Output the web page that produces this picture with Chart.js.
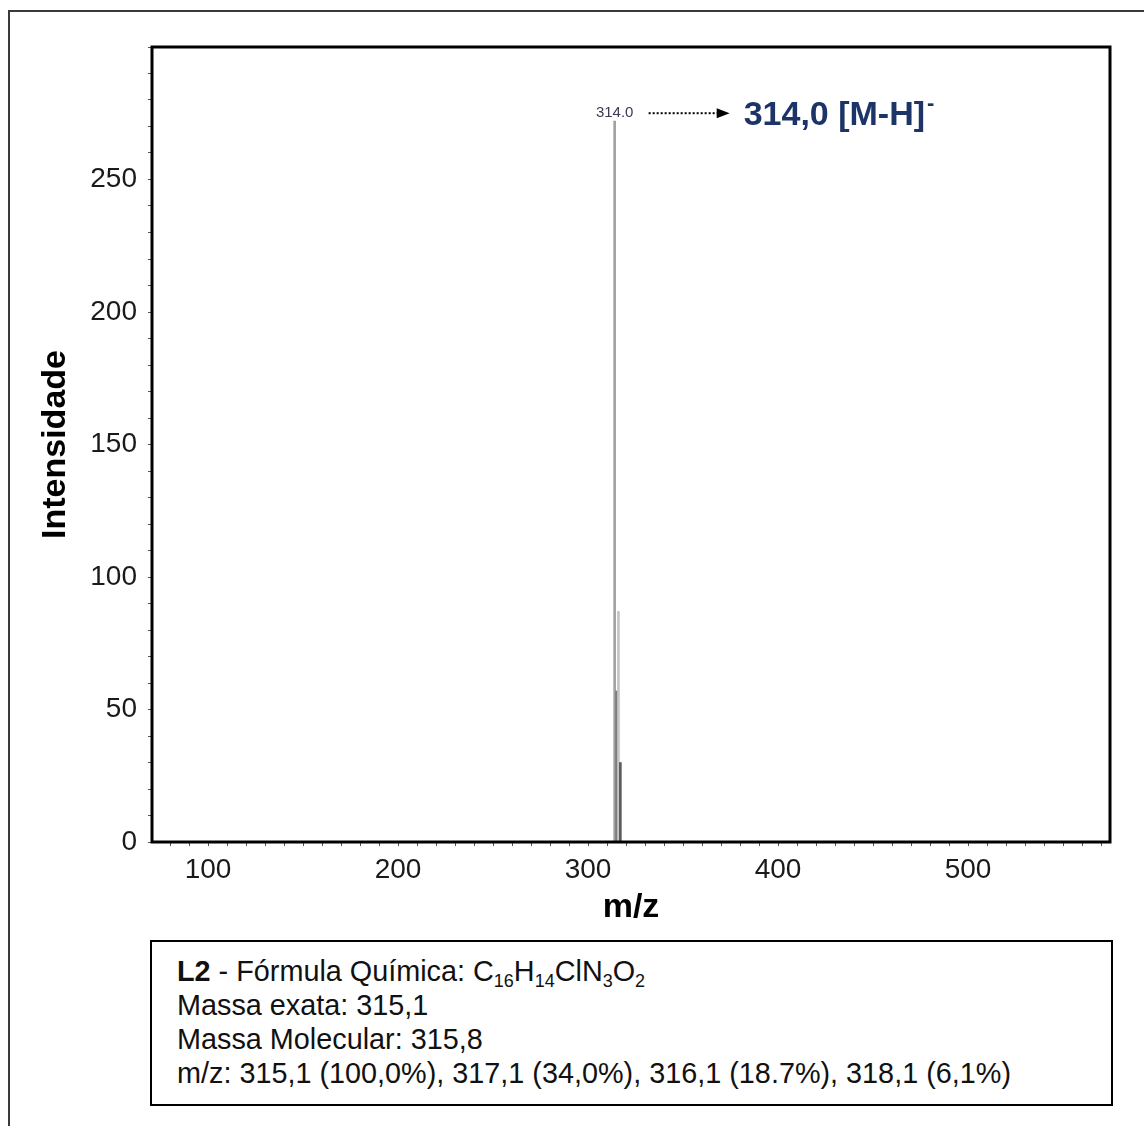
<!DOCTYPE html>
<html>
<head>
<meta charset="utf-8">
<script src="https://cdn.jsdelivr.net/npm/chart.js@4/dist/chart.umd.min.js"></script>
<style>
  body { margin: 0; background: #fff; font-family: 'Liberation Sans', Arial, sans-serif; }
  #frame { position: absolute; left: 8px; top: 10px; width: 1200px; height: 1200px;
           border-top: 2px solid #3a3a3a; border-left: 2px solid #3a3a3a; }
  #wrap { position: absolute; left: 0; top: 0; width: 1144px; height: 930px; }
  #info { position: absolute; left: 150px; top: 940px; width: 934px; height: 150px;
          border: 2px solid #000; padding: 12px 0 0 25px; font-size: 28.8px; line-height: 34px; color: #111; }
  #info sub { font-size: 18px; line-height: 0; vertical-align: -6px; }
</style>
</head>
<body>
<div id="frame"></div>
<div id="wrap"><canvas id="myChart"></canvas></div>
<div id="info">
  <b>L2</b> - Fórmula Química: C<sub>16</sub>H<sub>14</sub>ClN<sub>3</sub>O<sub>2</sub><br>
  Massa exata: 315,1<br>
  Massa Molecular: 315,8<br>
  m/z: 315,1 (100,0%), 317,1 (34,0%), 316,1 (18.7%), 318,1 (6,1%)
</div>
<script>
'use strict'

// spectrum peaks (m/z and intensity)
const peakMz = [314.0, 315.0, 316.0, 317.0];
const peakIntensity = [272, 57, 87, 30];
const peakColors = ['#a2a2a2', '#7c7c7c', '#c4c4c4', '#5c5c5c'];

// axis ranges and labelled ticks
const xMin = 70.5;
const xMax = 574.7;
const xLabels = [100, 200, 300, 400, 500];
const yMax = 300;
const yLabels = [0, 50, 100, 150, 200, 250];

// the base peak label
const baseLabel = '314.0';
const ionLabel = '314,0 [M-H]';

const fontName = "'Liberation Sans', Arial, sans-serif";

let points = [];
for (let i = 0; i < peakMz.length; i++) {
  points.push({x: peakMz[i], y: peakIntensity[i]});
}

// black box round the plot area
const boxPlugin = {
  id: 'plotBox',
  afterDraw(chart) {
    const ctx = chart.ctx;
    const a = chart.chartArea;
    ctx.save();
    ctx.strokeStyle = '#000';
    ctx.lineWidth = 3;
    ctx.strokeRect(a.left, a.top, a.right - a.left, a.bottom - a.top);
    ctx.restore();
  }
};

// small peak label, dotted arrow and ion name
const peakLabelPlugin = {
  id: 'peakLabel',
  afterDatasetsDraw(chart) {
    const ctx = chart.ctx;
    const x = chart.scales.x.getPixelForValue(peakMz[0]);
    const y = chart.scales.y.getPixelForValue(peakIntensity[0]);
    const ly = y - 8;
    ctx.save();
    ctx.textBaseline = 'middle';
    ctx.textAlign = 'center';
    ctx.fillStyle = '#3a3a55';
    ctx.font = '15px ' + fontName;
    ctx.fillText(baseLabel, x, ly);

    // dotted arrow
    ctx.strokeStyle = '#000';
    ctx.lineWidth = 2;
    ctx.setLineDash([2, 2]);
    ctx.beginPath();
    ctx.moveTo(x + 34, ly);
    ctx.lineTo(x + 104, ly);
    ctx.stroke();
    ctx.setLineDash([]);
    ctx.fillStyle = '#000';
    ctx.beginPath();
    ctx.moveTo(x + 102, ly - 5);
    ctx.lineTo(x + 115, ly);
    ctx.lineTo(x + 102, ly + 5);
    ctx.closePath();
    ctx.fill();

    ctx.textAlign = 'left';
    ctx.fillStyle = '#1d3468';
    ctx.font = 'bold 34px ' + fontName;
    ctx.fillText(ionLabel, x + 129, ly + 2);
    const w = ctx.measureText(ionLabel).width;
    ctx.font = 'bold 22px ' + fontName;
    ctx.fillText('-', x + 131 + w, ly - 9);
    ctx.restore();
  }
};

const ctx = document.getElementById('myChart').getContext('2d');

const myChart = new Chart(ctx, {
  type: 'bar',
  data: {
    datasets: [{
      label: 'Intensidade',
      data: points,
      backgroundColor: peakColors,
      borderWidth: 0,
      barThickness: 2
    }]
  },
  options: {
    responsive: true,
    maintainAspectRatio: false,
    animation: false,
    layout: { padding: { top: 47, right: 34, left: 0, bottom: 0 } },
    plugins: {
      legend: { display: false },
      tooltip: { enabled: false }
    },
    scales: {
      x: {
        type: 'linear',
        offset: false,
        min: xMin,
        max: xMax,
        afterFit(scale) { scale.height = 88; },
        border: { display: false },
        grid: { offset: false, drawOnChartArea: false, drawTicks: true, tickLength: 4, tickColor: '#555' },
        ticks: {
          stepSize: 10,
          autoSkip: false,
          includeBounds: false,
          maxRotation: 0,
          padding: 7,
          color: '#1a1a1a',
          font: { family: fontName, size: 28 },
          callback: (v) => xLabels.includes(v) ? String(v) : ''
        },
        title: {
          display: true,
          text: 'm/z',
          color: '#000',
          font: { family: fontName, size: 34, weight: 'bold' },
          padding: { top: 0, bottom: 2 }
        }
      },
      y: {
        min: 0,
        max: yMax,
        afterFit(scale) { scale.width = 152; },
        border: { display: false },
        grid: { drawOnChartArea: false, drawTicks: true, tickLength: 4, tickColor: '#555' },
        ticks: {
          stepSize: 10,
          autoSkip: false,
          padding: 11,
          color: '#1a1a1a',
          font: { family: fontName, size: 28 },
          callback: (v) => yLabels.includes(v) ? String(v) : ''
        },
        title: {
          display: true,
          text: 'Intensidade',
          color: '#000',
          font: { family: fontName, size: 34, weight: 'bold' },
          padding: { top: 35, bottom: 0 }
        }
      }
    }
  },
  plugins: [boxPlugin, peakLabelPlugin]
});
</script>
</body>
</html>
